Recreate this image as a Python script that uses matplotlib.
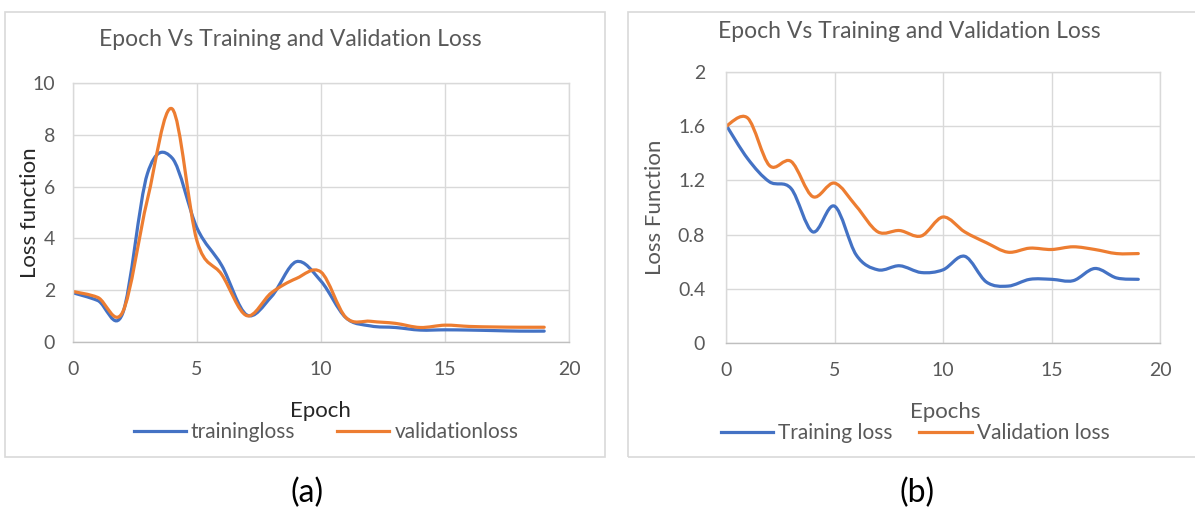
import numpy as np
import matplotlib
matplotlib.use("Agg")
import matplotlib.pyplot as plt
from matplotlib.path import Path
from matplotlib.patches import PathPatch, Rectangle
from matplotlib.lines import Line2D

plt.rcParams['font.family'] = ['Lato', 'DejaVu Sans']

# ---- data ----
epochs = list(range(20))

# (a)
train_a = [1.9, 1.6, 1.1, 6.5, 7.1, 4.4, 2.95, 1.05, 1.75, 3.1,
           2.35, 0.94, 0.62, 0.56, 0.46, 0.47, 0.46, 0.44, 0.42, 0.42]
val_a = [1.95, 1.72, 1.15, 5.5, 9.0, 3.9, 2.6, 1.02, 1.9, 2.45,
         2.7, 0.95, 0.8, 0.72, 0.56, 0.65, 0.6, 0.58, 0.57, 0.57]

# (b)
train_b = [1.61, 1.36, 1.19, 1.14, 0.82, 1.01, 0.65, 0.54, 0.57, 0.52,
           0.54, 0.64, 0.45, 0.42, 0.47, 0.47, 0.46, 0.55, 0.48, 0.47]
val_b = [1.60, 1.66, 1.31, 1.34, 1.08, 1.18, 1.01, 0.82, 0.83, 0.79,
         0.93, 0.82, 0.74, 0.67, 0.70, 0.69, 0.71, 0.69, 0.66, 0.66]

title = "Epoch Vs Training and Validation Loss"

BLUE = '#4472C4'
ORANGE = '#ED7D31'
GREY = '#595959'
GRID = '#d9d9d9'

W, H = 1195, 516


def smooth_path(xs, ys):
    # excel style smoothed line: bezier segments through every point
    pts = np.column_stack([xs, ys]).astype(float)
    n = len(pts)
    verts = [pts[0]]
    codes = [Path.MOVETO]
    for i in range(n - 1):
        p0 = pts[i - 1] if i > 0 else pts[i]
        p1 = pts[i]
        p2 = pts[i + 1]
        p3 = pts[i + 2] if i + 2 < n else pts[i + 1]
        verts += [p1 + (p2 - p0) / 6.0, p2 - (p3 - p1) / 6.0, p2]
        codes += [Path.CURVE4] * 3
    return Path(verts, codes)


def px_rect(x0, y0, x1, y1):
    # pixel box (top-left origin) -> figure fraction rect
    return [x0 / W, 1 - y1 / H, (x1 - x0) / W, (y1 - y0) / H]


fig = plt.figure(figsize=(W / 100, H / 100), dpi=100)

# panel frames
fig.patches.append(Rectangle((5 / W, 1 - 457 / H), 600 / W, 445 / H,
                             transform=fig.transFigure, fill=False,
                             edgecolor=GRID, lw=1.2))
fig.patches.append(Rectangle((628 / W, 1 - 457 / H), 580 / W, 445 / H,
                             transform=fig.transFigure, fill=False,
                             edgecolor=GRID, lw=1.2))

ax1 = fig.add_axes(px_rect(73, 83, 569, 342))
ax2 = fig.add_axes(px_rect(726, 72, 1160, 343))


def style_axes(ax, ypad):
    ax.set_xlim(0, 20)
    ax.set_xticks([0, 5, 10, 15, 20])
    ax.grid(True, color=GRID, lw=1)
    ax.set_axisbelow(True)
    for s in ax.spines.values():
        s.set_color(GRID)
        s.set_linewidth(1)
    ax.spines['bottom'].set_color('#bfbfbf')
    ax.tick_params(axis='both', length=0, labelcolor=GREY, labelsize=14)
    ax.tick_params(axis='x', pad=14)
    ax.tick_params(axis='y', pad=ypad)


style_axes(ax1, 13)
ax1.set_ylim(0, 10)
ax1.set_yticks([0, 2, 4, 6, 8, 10])

style_axes(ax2, 15)
ax2.set_ylim(0, 2)
ax2.set_yticks([0, 0.4, 0.8, 1.2, 1.6, 2.0])
ax2.set_yticklabels(['0', '0.4', '0.8', '1.2', '1.6', '2'])

for ax, tr, va in [(ax1, train_a, val_a), (ax2, train_b, val_b)]:
    for ys, col in [(tr, BLUE), (va, ORANGE)]:
        ax.add_patch(PathPatch(smooth_path(epochs, ys), fill=False,
                               edgecolor=col, lw=2.3,
                               capstyle='round', joinstyle='round'))

# axis titles
ax1.set_xlabel("Epoch", fontsize=16, color='#262626')
ax1.xaxis.set_label_coords(0.498, -0.265)
ax1.set_ylabel("Loss function", fontsize=16, color='#262626')
ax1.yaxis.set_label_coords(-0.0867, 0.5)

ax2.set_xlabel("Epochs", fontsize=16, color=GREY)
ax2.xaxis.set_label_coords(0.505, -0.253)
ax2.set_ylabel("Loss Function", fontsize=16, color=GREY)
ax2.yaxis.set_label_coords(-0.1636, 0.5)

for lab in [ax1.xaxis.label, ax1.yaxis.label, ax2.xaxis.label, ax2.yaxis.label]:
    lab.set_va('center')
    lab.set_ha('center')

# chart titles
fig.text(290 / W, 1 - 39 / H, title, ha='center', va='center',
         fontsize=16.5, color=GREY)
fig.text(909 / W, 1 - 32 / H, title, ha='center', va='center',
         fontsize=16.5, color=GREY)

# legends below the axes
leg_kw = dict(loc='center', ncol=2, frameon=False, fontsize=15,
              labelcolor=GREY, handlelength=2.5, handletextpad=0.25)
h_a = [Line2D([], [], color=BLUE, lw=2.3), Line2D([], [], color=ORANGE, lw=2.3)]
fig.legend(h_a, ['trainingloss', 'validationloss'], columnspacing=2.0,
           bbox_to_anchor=(326 / W, 1 - 432 / H), **leg_kw)
h_b = [Line2D([], [], color=BLUE, lw=2.3), Line2D([], [], color=ORANGE, lw=2.3)]
fig.legend(h_b, ['Training loss', 'Validation loss'], columnspacing=1.3,
           bbox_to_anchor=(915 / W, 1 - 433 / H), **leg_kw)

# sub-figure captions
fig.text(307 / W, 1 - 493 / H, "(a)", ha='center', va='center', fontsize=23)
fig.text(917 / W, 1 - 493 / H, "(b)", ha='center', va='center', fontsize=23)

fig.savefig('out.png', dpi=100)
